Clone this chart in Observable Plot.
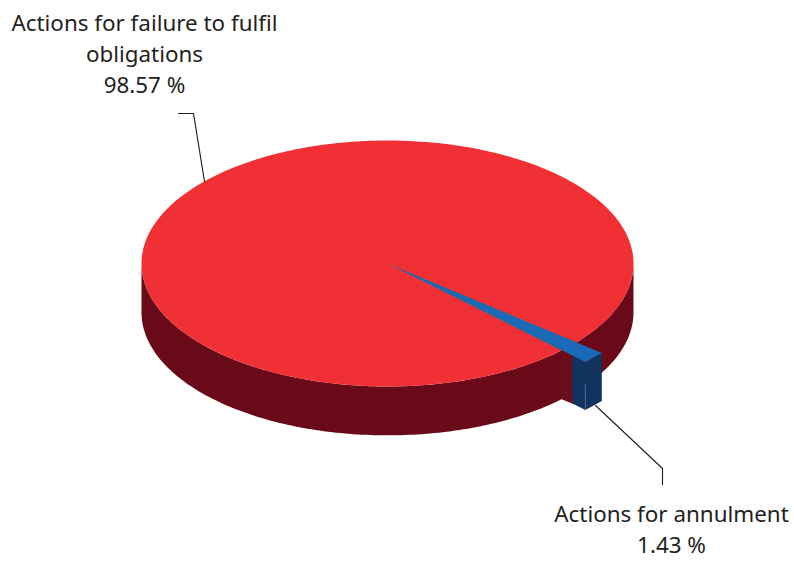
<!DOCTYPE html>
<html>
<head>
<meta charset="utf-8">
<script src="https://cdn.jsdelivr.net/npm/d3@7"></script>
<script src="https://cdn.jsdelivr.net/npm/@observablehq/plot@0.6"></script>
<style>html,body{margin:0;padding:0;background:#fff}svg{display:block}</style>
</head>
<body>
<div id="chart"></div>
<script>
const categories = ["Actions for failure to fulfil\nobligations", "Actions for annulment"];
const shares = [98.57, 1.43];
const shareLabels = ["98.57 %", "1.43 %"];

// View geometry of the tilted pie (pixels), unit circle = pie rim
const W = 794, H = 561, cx = 387, cy = 263, rx = 246, ry = 123;
const depth = 0.397, blueDepth = 0.39, startAngle = 39.8, explode = 0.03, blueRadius = 1.105;
const ux = p => (p - cx) / rx, uy = p => (p - cy) / ry;

const rad = a => a * Math.PI / 180;
const rim = (a, r = 1, dz = 0, ox = 0, oy = 0) => ({x: ox + r * Math.cos(rad(a)), y: oy + r * Math.sin(rad(a)) + dz});
const arc = (a0, a1, dz = 0) => {
  const n = Math.max(2, Math.ceil(Math.abs(a1 - a0)));
  return d3.range(n + 1).map(i => rim(a0 + (a1 - a0) * i / n, 1, dz));
};

const blueSweep = shares[1] * 3.6;
const a0 = startAngle, a1 = startAngle + blueSweep;
const mid = (a0 + a1) / 2;
const ox = explode * Math.cos(rad(mid)), oy = explode * Math.sin(rad(mid));

// Slice outlines
const redTop = [{x: 0, y: 0}, ...arc(a1, a0 + 360)];
const notch = [{x: 0, y: 0}, ...arc(a0, a1)];
const redSide = [...arc(0, 180), ...arc(180, 0, depth)];
const apex = {x: ox, y: oy};
const outerA = rim(a0, blueRadius, 0, ox, oy), outerB = rim(a1, blueRadius, 0, ox, oy);
const lower = p => ({x: p.x, y: p.y + blueDepth});
const along = t => ({x: ox + (outerB.x - ox) * t, y: oy + (outerB.y - oy) * t});
const cutStart = along(0.933), cutOverlap = along(0.94);
const blueTop = [apex, outerA, outerB];
const blueFront = [outerB, outerA, lower(outerA), lower(outerB)];
const blueCut = [cutStart, outerB, lower(outerB), lower(cutStart)];
const rimTop = rim(a1), rimBottom = rim(a1, 1, depth);
const redCut = [rimTop, cutOverlap, lower(cutOverlap), rimBottom];
const blueEdge = [{x: outerB.x, y: uy(383)}, lower(outerB)];

const leaderRed = [[178, 113], [193, 113], [204, 181]].map(([x, y]) => ({x: ux(x), y: uy(y)}));
const leaderBlue = [[595, 405], [662, 468], [662, 484]].map(([x, y]) => ({x: ux(x), y: uy(y)}));

const labels = [
  {x: ux(144), y: uy(92), text: categories[0] + "\n" + shareLabels[0]},
  {x: ux(671), y: uy(552), text: categories[1] + "\n" + shareLabels[1]}
];

const poly = (data, fill) => Plot.line(data, {x: "x", y: "y", fill, stroke: "none", curve: "linear"});

const chart = Plot.plot({
  width: W, height: H,
  margin: 0,
  x: {domain: [ux(0), ux(W)], range: [0, W], axis: null},
  y: {domain: [uy(0), uy(H)], range: [0, H], axis: null},
  style: {background: "#fff"},
  marks: [
    poly(redSide, "#6a0a19"),
    poly(redTop, "#f03034"),
    poly(notch, "#6a0a19"),
    poly(redCut, "#680f1b"),
    poly(blueFront, "#11335f"),
    poly(blueCut, "#11335f"),
    poly(blueTop, "#1a6ab8"),
    Plot.line(blueEdge, {x: "x", y: "y", stroke: "#4a6a90", strokeWidth: 0.7}),
    Plot.line(leaderRed, {x: "x", y: "y", stroke: "#231f20", strokeWidth: 1.15, curve: "linear"}),
    Plot.line(leaderBlue, {x: "x", y: "y", stroke: "#231f20", strokeWidth: 1.15, curve: "linear"}),
    Plot.text(labels, {
      x: "x", y: "y", text: "text", fontSize: 22.4, lineHeight: 1.38,
      lineAnchor: "bottom", textAnchor: "middle", fill: "#231f20",
      fontFamily: "'Noto Sans', sans-serif"
    })
  ]
});
document.getElementById("chart").append(chart);
</script>
</body>
</html>
